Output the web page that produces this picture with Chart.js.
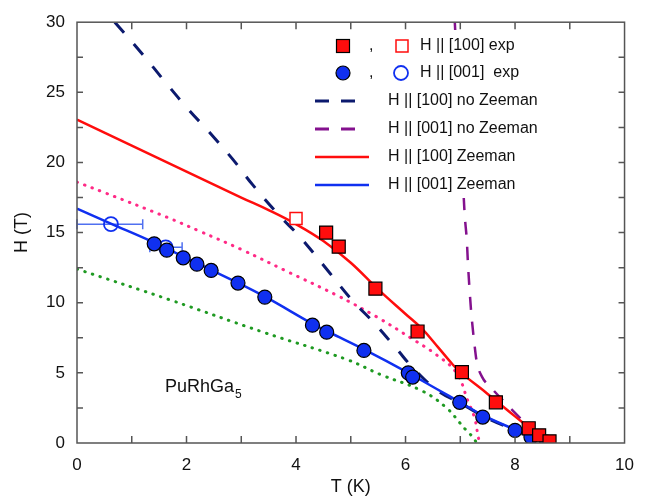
<!DOCTYPE html>
<html>
<head>
<meta charset="utf-8">
<script src="https://cdn.jsdelivr.net/npm/chart.js@4.4.1/dist/chart.umd.min.js"></script>
<style>
  body { margin: 0; background: #fff; }
  #wrap { width: 646px; height: 498px; }
</style>
</head>
<body>
<div id="wrap"><canvas id="phaseChart" width="646" height="498"></canvas></div>
<script>
// experiment, H || [100] (filled squares) and the open square
const sq100T = [4.55, 4.78, 5.45, 6.22, 7.03, 7.65, 8.25, 8.44, 8.63];
const sq100H = [15.0, 14.0, 11.0, 7.95, 5.05, 2.9, 1.05, 0.55, 0.12];
const open100T = [4.0];
const open100H = [16.0];

// experiment, H || [001] (filled circles), open circles with T error bars
const ci001T = [1.41, 1.64, 1.94, 2.19, 2.45, 2.94, 3.43, 4.3, 4.56, 5.24, 6.05, 6.13, 6.99, 7.41, 8.0, 8.29, 8.58];
const ci001H = [14.2, 13.75, 13.2, 12.75, 12.3, 11.4, 10.4, 8.4, 7.9, 6.6, 5.0, 4.7, 2.9, 1.85, 0.9, 0.42, 0.07];
const open001T = [0.62, 1.62];
const open001H = [15.6, 13.95];
const open001Tlo = [0.0, 1.33];
const open001Thi = [1.2, 1.92];

// theory curves
const z100T = [0, 1, 2, 3, 3.5, 4, 4.5, 5, 5.5, 6.0, 6.3, 6.6, 6.85, 7.0, 7.5, 8.0, 8.3, 8.6];
const z100H = [23.05, 21.2, 19.35, 17.5, 16.6, 15.6, 14.4, 12.85, 10.95, 9.2, 8.15, 6.8, 5.65, 5.05, 3.5, 1.9, 0.95, 0];
const z001T = [0, 0.7, 1.4, 2.2, 2.95, 3.45, 4.3, 4.6, 5.25, 6.05, 6.57, 7.0, 7.4, 8.0, 8.3, 8.6];
const z001H = [16.7, 15.5, 14.3, 12.8, 11.4, 10.4, 8.5, 7.9, 6.65, 5.0, 3.85, 2.9, 2.0, 0.95, 0.45, 0];
const nz100T = [0.69, 1.2, 1.64, 2.03, 2.43, 2.85, 3.21, 3.7, 4.07, 4.62, 5.02, 5.44, 5.84, 6.15, 6.6, 7.0, 7.4, 8.0, 8.3, 8.6];
const nz100H = [30, 27.7, 25.6, 23.8, 22.1, 20.2, 18.4, 16.2, 14.7, 12.1, 10.2, 8.5, 6.7, 5.3, 3.7, 2.85, 1.95, 0.9, 0.42, 0];
const nz001T = [6.9, 6.95, 7.0, 7.05, 7.08, 7.12, 7.14, 7.17, 7.2, 7.26, 7.3, 7.4, 7.55, 7.75, 8.14, 8.4, 8.6];
const nz001H = [30, 26, 22, 18.5, 16.3, 14.4, 12.8, 10.9, 9.3, 7.0, 5.8, 4.7, 4.0, 3.15, 1.6, 0.7, 0];
const pinkT = [0, 0.47, 1.64, 2.24, 3.0, 3.8, 4.76, 5.47, 6.13, 6.56, 6.93, 7.14, 7.26, 7.32, 7.35];
const pinkH = [18.6, 17.9, 16.1, 15.1, 13.8, 12.3, 10.5, 9.0, 7.4, 6.3, 5.0, 3.0, 1.8, 0.6, 0];
const greenT = [0, 1.7, 3.4, 4.93, 5.53, 6.31, 6.75, 7.0, 7.11, 7.23, 7.3];
const greenH = [12.4, 10.2, 7.9, 5.95, 4.9, 3.7, 2.5, 1.4, 0.9, 0.42, 0];

const xTicks = [0, 2, 4, 6, 8, 10];
const yTicks = [0, 5, 10, 15, 20, 25, 30];

const legendTexts = ['H || [100] exp', 'H || [001]  exp', 'H || [100] no Zeeman', 'H || [001] no Zeeman', 'H || [100] Zeeman', 'H || [001] Zeeman'];

function pts(xs, ys) { return xs.map((x, i) => ({ x: x, y: ys[i] })); }

const FONT = "'Liberation Sans', Arial, sans-serif";
const RED = '#ff0d0d';
const BLUE = '#1030f0';
const NAVY = '#0c1a6e';
const PURPLE = '#84118e';
const PINK = '#ff2a86';
const GREEN = '#1f9a22';

function lineSet(data, color, width, dash, cap, mono) {
  return {
    data: data, showLine: true, pointRadius: 0, borderColor: color, borderWidth: width,
    borderDash: dash, borderCapStyle: cap || 'butt', fill: false,
    tension: mono ? 0 : 0.4, cubicInterpolationMode: mono ? 'monotone' : 'default'
  };
}

const extras = {
  id: 'extras',
  beforeDatasetsDraw(chart) {
    const ctx = chart.ctx, xs = chart.scales.x, ys = chart.scales.y;
    ctx.save();
    ctx.strokeStyle = '#5070f0';
    ctx.lineWidth = 1.5;
    open001T.forEach((t, i) => {
      const y = ys.getPixelForValue(open001H[i]);
      const x1 = xs.getPixelForValue(open001Tlo[i]);
      const x2 = xs.getPixelForValue(open001Thi[i]);
      ctx.beginPath();
      ctx.moveTo(x1, y); ctx.lineTo(x2, y);
      ctx.moveTo(x1, y - 5); ctx.lineTo(x1, y + 5);
      ctx.moveTo(x2, y - 5); ctx.lineTo(x2, y + 5);
      ctx.stroke();
    });
    ctx.restore();
  },
  afterDatasetsDraw(chart) {
    const ctx = chart.ctx, a = chart.chartArea, xs = chart.scales.x, ys = chart.scales.y;
    ctx.save();
    // legend background hides curves behind it
    ctx.fillStyle = '#fff';
    ctx.fillRect(305, 30, 290, 168);

    // frame and inward ticks
    ctx.strokeStyle = '#555';
    ctx.lineWidth = 1.5;
    ctx.strokeRect(a.left, a.top, a.right - a.left, a.bottom - a.top);
    ctx.beginPath();
    for (let t = 1; t < 10; t++) {
      const x = xs.getPixelForValue(t);
      ctx.moveTo(x, a.bottom); ctx.lineTo(x, a.bottom - 7);
      ctx.moveTo(x, a.top); ctx.lineTo(x, a.top + 7);
    }
    for (let h = 2.5; h < 30; h += 2.5) {
      const y = ys.getPixelForValue(h);
      ctx.moveTo(a.left, y); ctx.lineTo(a.left + 6, y);
      ctx.moveTo(a.right, y); ctx.lineTo(a.right - 6, y);
    }
    ctx.stroke();

    // legend
    ctx.font = '16px ' + FONT;
    ctx.textBaseline = 'middle';
    const rowY = [46, 73, 101, 129, 157, 185];
    // row 1: squares
    ctx.fillStyle = RED; ctx.strokeStyle = '#000'; ctx.lineWidth = 1.2;
    ctx.fillRect(336.5, rowY[0] - 6.5, 13, 13); ctx.strokeRect(336.5, rowY[0] - 6.5, 13, 13);
    ctx.strokeStyle = RED; ctx.lineWidth = 1.5;
    ctx.strokeRect(396, rowY[0] - 6, 12, 12);
    // row 2: circles
    ctx.fillStyle = BLUE; ctx.strokeStyle = '#000'; ctx.lineWidth = 1.2;
    ctx.beginPath(); ctx.arc(343, rowY[1], 7, 0, Math.PI * 2); ctx.fill(); ctx.stroke();
    ctx.strokeStyle = BLUE; ctx.lineWidth = 1.8;
    ctx.beginPath(); ctx.arc(401, rowY[1], 7, 0, Math.PI * 2); ctx.stroke();
    // rows 3-6: lines
    ctx.lineWidth = 3;
    [[NAVY, rowY[2]], [PURPLE, rowY[3]]].forEach(([c, y]) => {
      ctx.strokeStyle = c;
      ctx.beginPath();
      ctx.moveTo(315, y); ctx.lineTo(329, y);
      ctx.moveTo(341, y); ctx.lineTo(355, y);
      ctx.stroke();
    });
    ctx.lineWidth = 2.5;
    [[RED, rowY[4]], [BLUE, rowY[5]]].forEach(([c, y]) => {
      ctx.strokeStyle = c;
      ctx.beginPath(); ctx.moveTo(315, y); ctx.lineTo(369, y); ctx.stroke();
    });
    ctx.fillStyle = '#111';
    ctx.fillText(',', 369, rowY[0]);
    ctx.fillText(',', 369, rowY[1]);
    ctx.fillText(legendTexts[0], 420, rowY[0]);
    ctx.fillText(legendTexts[1], 420, rowY[1]);
    for (let i = 2; i < 6; i++) ctx.fillText(legendTexts[i], 388, rowY[i]);

    // compound label
    ctx.textBaseline = 'alphabetic';
    ctx.font = '18px ' + FONT;
    ctx.fillText('PuRhGa', 165, 392);
    const w = ctx.measureText('PuRhGa').width;
    ctx.font = '12px ' + FONT;
    ctx.fillText('5', 165 + w + 1, 398);
    ctx.restore();
  }
};

new Chart(document.getElementById('phaseChart'), {
  type: 'scatter',
  data: {
    datasets: [
      { data: pts(sq100T, sq100H), pointStyle: 'rect', pointRadius: 9.2, backgroundColor: RED, borderColor: '#000', borderWidth: 1.2 },
      { data: pts(ci001T, ci001H), pointStyle: 'circle', pointRadius: 7, backgroundColor: BLUE, borderColor: '#000', borderWidth: 1.2 },
      { data: pts(open100T, open100H), pointStyle: 'rect', pointRadius: 8.5, backgroundColor: '#fff', borderColor: RED, borderWidth: 1.5 },
      { data: pts(open001T, open001H), pointStyle: 'circle', pointRadius: 7, backgroundColor: 'rgba(255,255,255,0)', borderColor: BLUE, borderWidth: 1.8 },
      lineSet(pts(z001T, z001H), BLUE, 2.5, []),
      lineSet(pts(z100T, z100H), RED, 2.5, []),
      lineSet(pts(nz100T, nz100H), NAVY, 3, [14, 15]),
      lineSet(pts(nz001T, nz001H), PURPLE, 2.5, [13, 12], 'butt', true),
      lineSet(pts(pinkT, pinkH), PINK, 3, [0.5, 7.5], 'round'),
      lineSet(pts(greenT, greenH), GREEN, 3, [0.5, 7.5], 'round')
    ]
  },
  options: {
    responsive: false,
    animation: false,
    layout: { padding: { top: 15, right: 21, left: 0, bottom: 0 } },
    plugins: { legend: { display: false }, tooltip: { enabled: false } },
    scales: {
      x: {
        type: 'linear', min: 0, max: 10,
        afterBuildTicks(s) { s.ticks = xTicks.map(v => ({ value: v })); },
        ticks: { color: '#111', font: { family: FONT, size: 17 }, padding: 12 },
        grid: { display: false, drawTicks: false },
        border: { display: false },
        title: { display: true, text: 'T (K)', color: '#111', font: { family: FONT, size: 18 }, padding: { top: 0, bottom: 0 } },
        afterFit(s) { s.height = 55; }
      },
      y: {
        type: 'linear', min: 0, max: 30,
        afterBuildTicks(s) { s.ticks = yTicks.map(v => ({ value: v })); },
        ticks: { color: '#111', font: { family: FONT, size: 17 }, padding: 12 },
        grid: { display: false, drawTicks: false },
        border: { display: false },
        title: { display: true, text: 'H (T)', color: '#111', font: { family: FONT, size: 18 }, padding: { top: 11, bottom: 0 } },
        afterFit(s) { s.width = 77; }
      }
    }
  },
  plugins: [extras]
});
</script>
</body>
</html>
